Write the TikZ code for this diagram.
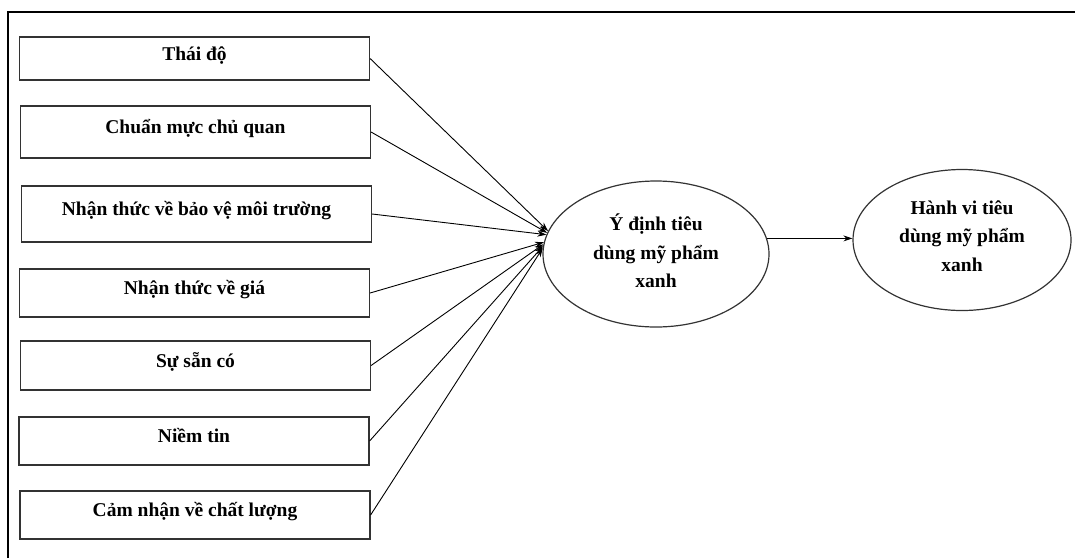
\documentclass[tikz,border=0pt]{standalone}
\usepackage{fontspec}
\setmainfont{Liberation Serif}
\usetikzlibrary{shapes.geometric,arrows.meta}

\begin{document}
\begin{tikzpicture}%
    [x=1pt, y=-1pt,
    factor/.style={rectangle, draw=black!80, line width=1.2pt, minimum width=350pt, inner sep=0pt,
      text height=0.9em, text depth=0.6em, font=\fontsize{19.5pt}{28pt}\selectfont\bfseries},
    latent/.style={ellipse, draw=black!80, line width=1.2pt, inner sep=0pt},
    caption/.style={align=center, inner sep=0pt, font=\fontsize{19.5pt}{28.5pt}\selectfont\bfseries},
    link/.style={line width=0.9pt, -{Stealth[length=9pt, width=6pt]}}]

    \useasboundingbox (0, 0) rectangle (1075, 558);
    \draw [line width=2pt] (8, 558) -- (8, 12) -- (1075, 12);

    \node [factor, minimum height=43pt] (attitude) at (194.5, 58.5) {Thái độ};
    \node [factor, minimum height=52pt] (norm)     at (195.5, 132)  {Chuẩn mực chủ quan};
    \node [factor, minimum height=56pt] (envir)    at (196.5, 214)  {Nhận thức về bảo vệ môi trường};
    \node [factor, minimum height=48pt] (price)    at (194.5, 293)  {Nhận thức về giá};
    \node [factor, minimum height=49pt] (avail)    at (195.5, 365.5) {Sự sẵn có};
    \node [factor, minimum height=48pt] (trust)    at (194, 441)    {Niềm tin};
    \node [factor, minimum height=48pt] (quality)  at (195, 515)    {Cảm nhận về chất lượng};

    \node [latent, minimum width=226pt, minimum height=146pt] (intent) at (656, 254) {};
    \node [caption] (intent-text) at (656, 251) {Ý định tiêu\\dùng mỹ phẩm\\xanh};
    \node [latent, minimum width=218pt, minimum height=141pt] (behav) at (962, 240) {};
    \node [caption] (behav-text) at (962, 236) {Hành vi tiêu\\dùng mỹ phẩm\\xanh};

    \draw [link] (attitude.east) to (intent.168);
    \draw [link] (norm.east) to (intent.169);
    \draw [link] (envir.east) to (intent.170);
    \draw [link] (price.east) to (intent.174);
    \draw [link] (avail.east) to (intent.175);
    \draw [link] (trust.east) to (intent.176);
    \draw [link] (quality.east) to (intent.177);
    \draw [link] (intent.8.8) to (behav.west |- intent.8.8);
  \end{tikzpicture}
\end{document}
